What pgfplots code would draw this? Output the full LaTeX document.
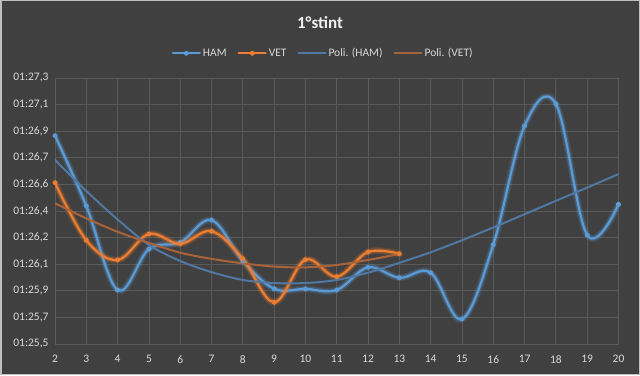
\documentclass[border=0pt]{standalone}
\usepackage{fontspec}
\setmainfont{Carlito}
\usepackage{pgfplots}
\pgfplotsset{compat=1.18}
\definecolor{bg}{HTML}{404040}
\definecolor{gridc}{HTML}{595959}
\definecolor{txt}{HTML}{D9D9D9}
\definecolor{ham}{HTML}{5B9BD5}
\definecolor{vet}{HTML}{ED7D31}
\definecolor{hamtr}{HTML}{5078A3}
\definecolor{vettr}{HTML}{A9633A}
\definecolor{hammk}{HTML}{D0E3F4}
\definecolor{vetmk}{HTML}{FAD6BE}
\begin{document}
\begin{tikzpicture}
\fill[bg] (0pt,0pt) rectangle (640pt,375pt);
\draw[color=black!25,line width=1.5pt] (0.75pt,0.75pt) rectangle (639.25pt,374.25pt);
\node[text=white!95!black,font=\fontsize{17}{20}\selectfont\bfseries] at (320pt,352pt) {1°stint};
\begin{axis}[
  scale only axis,
  width=563.5pt, height=266pt,
  at={(55pt,31pt)}, anchor=south west,
  xmin=2, xmax=20, ymin=85.536, ymax=87.264,
  xtick={2,3,...,20},
  ytick={85.536,85.7088,85.8816,86.0544,86.2272,86.4,86.5728,86.7456,86.9184,87.0912,87.264},
  yticklabels={{01:25,5},{01:25,7},{01:25,9},{01:26,1},{01:26,2},{01:26,4},{01:26,6},{01:26,7},{01:26,9},{01:27,1},{01:27,3}},
  grid=major,
  major grid style={gridc,line width=0.8pt},
  axis line style={draw=none},
  tick style={draw=none},
  ticklabel style={text=txt,font=\fontsize{11.5}{13}\selectfont},
  /pgf/number format/assume math mode=true,
  yticklabel style={xshift=-3pt},
  xticklabel style={yshift=-8pt},
  legend columns=4,
  legend style={at={(0.476,1.093)},anchor=center,draw=none,fill=none,text=txt,
    font=\fontsize{11.5}{13}\selectfont,
    /tikz/every even column/.append style={column sep=9pt},
    inner sep=0pt},
  legend cell align=left,
  legend image code/.code={\draw[mark repeat=2,mark phase=2,#1] plot coordinates {(0pt,0pt) (13.5pt,0pt) (27pt,0pt)};},
  every axis plot/.append style={line cap=round,line join=round},
]
% HAM glow
\addplot[forget plot,smooth,tension=0.6,ham,opacity=0.15,line width=7pt] coordinates {
(2,86.889)(3,86.433)(4,85.887)(5,86.153)(6,86.196)(7,86.341)(8,86.075)(9,85.895)(10,85.894)(11,85.887)(12,86.034)(13,85.966)(14,85.999)(15,85.698)(16,86.181)(17,86.953)(18,87.095)(19,86.244)(20,86.443)};
\addplot[forget plot,smooth,tension=0.6,ham,opacity=0.25,line width=4.5pt] coordinates {
(2,86.889)(3,86.433)(4,85.887)(5,86.153)(6,86.196)(7,86.341)(8,86.075)(9,85.895)(10,85.894)(11,85.887)(12,86.034)(13,85.966)(14,85.999)(15,85.698)(16,86.181)(17,86.953)(18,87.095)(19,86.244)(20,86.443)};
\addplot[smooth,tension=0.6,ham,line width=2.2pt,mark=*,mark size=1.6pt,mark options={fill=hammk,draw=none}] coordinates {
(2,86.889)(3,86.433)(4,85.887)(5,86.153)(6,86.196)(7,86.341)(8,86.075)(9,85.895)(10,85.894)(11,85.887)(12,86.034)(13,85.966)(14,85.999)(15,85.698)(16,86.181)(17,86.953)(18,87.095)(19,86.244)(20,86.443)};
\addlegendentry{HAM}
% VET glow
\addplot[forget plot,smooth,tension=0.6,vet,opacity=0.15,line width=7pt] coordinates {
(2,86.583)(3,86.210)(4,86.082)(5,86.251)(6,86.187)(7,86.269)(8,86.089)(9,85.807)(10,86.084)(11,85.973)(12,86.134)(13,86.122)};
\addplot[forget plot,smooth,tension=0.6,vet,opacity=0.25,line width=4.5pt] coordinates {
(2,86.583)(3,86.210)(4,86.082)(5,86.251)(6,86.187)(7,86.269)(8,86.089)(9,85.807)(10,86.084)(11,85.973)(12,86.134)(13,86.122)};
\addplot[smooth,tension=0.6,vet,line width=2.2pt,mark=*,mark size=1.6pt,mark options={fill=vetmk,draw=none}] coordinates {
(2,86.583)(3,86.210)(4,86.082)(5,86.251)(6,86.187)(7,86.269)(8,86.089)(9,85.807)(10,86.084)(11,85.973)(12,86.134)(13,86.122)};
\addlegendentry{VET}
% trend lines
\addplot[smooth,hamtr,line width=2pt] coordinates {
(2,86.732)(3,86.530)(4,86.345)(5,86.179)(6,86.075)(7,86.003)(8,85.952)(9,85.932)(10,85.932)(11,85.952)(12,85.999)(13,86.063)(14,86.132)(15,86.210)(16,86.293)(17,86.379)(18,86.466)(19,86.552)(20,86.640)};
\addlegendentry{Poli. (HAM)}
\addplot[smooth,vettr,line width=2pt] coordinates {
(2,86.450)(3,86.352)(4,86.265)(5,86.193)(6,86.129)(7,86.089)(8,86.060)(9,86.039)(10,86.034)(11,86.049)(12,86.082)(13,86.120)};
\addlegendentry{Poli. (VET)}
\end{axis}
\end{tikzpicture}
\end{document}
